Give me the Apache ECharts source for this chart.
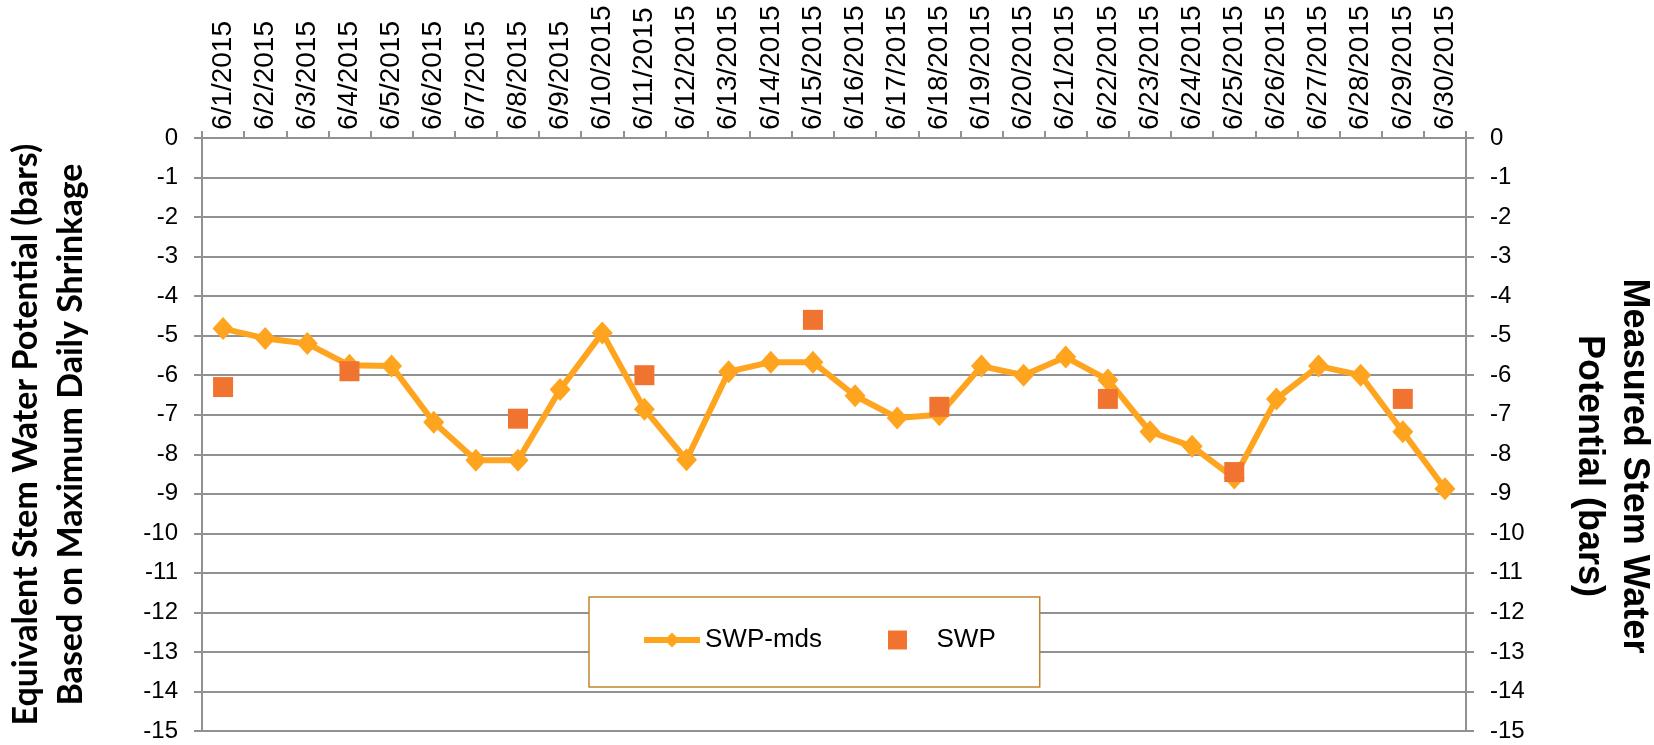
<!DOCTYPE html>
<html>
<head>
<meta charset="utf-8">
<title>SWP-mds vs SWP</title>
<script src="https://cdn.jsdelivr.net/npm/echarts@6/dist/echarts.min.js"></script>
<style>
  html, body { margin: 0; padding: 0; background: #fff; }
  #chart { width: 1654px; height: 745px; }
</style>
</head>
<body>
<div id="chart"></div>
<script>
// dates on the category axis
const dates = [
  '6/1/2015', '6/2/2015', '6/3/2015', '6/4/2015', '6/5/2015', '6/6/2015',
  '6/7/2015', '6/8/2015', '6/9/2015', '6/10/2015', '6/11/2015', '6/12/2015',
  '6/13/2015', '6/14/2015', '6/15/2015', '6/16/2015', '6/17/2015', '6/18/2015',
  '6/19/2015', '6/20/2015', '6/21/2015', '6/22/2015', '6/23/2015', '6/24/2015',
  '6/25/2015', '6/26/2015', '6/27/2015', '6/28/2015', '6/29/2015', '6/30/2015'
];

// equivalent SWP from max daily shrinkage (bars)
const swpMds = [
  -4.82, -5.07, -5.2, -5.75, -5.77, -7.19, -8.15, -8.15, -6.36, -4.93,
  -6.86, -8.14, -5.91, -5.67, -5.67, -6.52, -7.08, -7.0, -5.77, -6.0,
  -5.54, -6.12, -7.43, -7.8, -8.6, -6.6, -5.77, -6.0, -7.43, -8.87
];

// measured stem water potential (bars), only some days
const swpDates = ['6/1/2015', '6/4/2015', '6/8/2015', '6/11/2015', '6/15/2015',
  '6/18/2015', '6/22/2015', '6/25/2015', '6/29/2015'];
const swpValues = [-6.3, -5.9, -7.1, -6.0, -4.6, -6.8, -6.6, -8.45, -6.6];

const gridColor = '#919191';
const lineColor = '#ffa41f';
const squareColor = '#f07430';
const labelFont = 'Liberation Sans, Arial, sans-serif';

const chart = echarts.init(document.getElementById('chart'));

// shared settings for both value axes
const valueAxis = (pos) => ({
  type: 'value',
  position: pos,
  min: -15,
  max: 0,
  interval: 1,
  axisLine: { show: true, lineStyle: { color: gridColor, width: 2 } },
  axisTick: { show: true, inside: false, length: 8, lineStyle: { color: gridColor, width: 2 } },
  axisLabel: { color: '#000', fontSize: 24, fontFamily: labelFont, margin: 24 },
  nameLocation: 'middle'
});

const option = {
  backgroundColor: '#fff',
  animation: false,
  grid: {
    left: 202, right: 188, top: 138, bottom: 14,
    containLabel: false,
    outerBoundsMode: 'none'
  },
  legend: {
    left: 589,
    top: 597,
    orient: 'horizontal',
    padding: [30, 44, 34, 52],
    itemGap: 66,
    itemWidth: 56,
    itemHeight: 19,
    borderColor: '#c0862b',
    borderWidth: 1.5,
    backgroundColor: '#fff',
    textStyle: { color: '#000', fontSize: 26, fontFamily: labelFont },
    data: [
      { name: 'SWP-mds', lineStyle: { width: 6 } },
      // square marker, a path keeps its aspect inside the wide icon box
      { name: 'SWP', icon: 'path://M0,0 h10 v10 h-10 Z', itemStyle: { opacity: 1 }, textStyle: { padding: [0, 0, 0, 6] } }
    ]
  },
  xAxis: {
    type: 'category',
    position: 'top',
    data: dates,
    boundaryGap: true,
    axisLine: { show: true, lineStyle: { color: gridColor, width: 2 } },
    axisTick: { show: true, inside: false, length: 7, alignWithLabel: false, lineStyle: { color: gridColor, width: 2 } },
    axisLabel: { rotate: 90, interval: 0, color: '#000', fontSize: 28, fontFamily: labelFont, margin: 8 },
    splitLine: { show: false }
  },
  yAxis: [
    Object.assign(valueAxis('left'), {
      name: 'Equivalent Stem Water Potential (bars)\nBased on Maximum Daily Shrinkage',
      nameRotate: 90,
      nameGap: 108,
      nameTextStyle: { color: '#000', fontSize: 34, fontWeight: 'bold', fontFamily: 'Lato, sans-serif', lineHeight: 45, align: 'center' },
      splitLine: { show: true, lineStyle: { color: gridColor, width: 2 } }
    }),
    Object.assign(valueAxis('right'), {
      name: 'Measured Stem Water\nPotential (bars)',
      nameRotate: -90,
      nameGap: 100,
      nameTextStyle: { color: '#000', fontSize: 36, fontWeight: 'bold', fontFamily: labelFont, lineHeight: 45, align: 'center', padding: [0, 0, 0, 63] },
      splitLine: { show: false }
    })
  ],
  series: [
    {
      name: 'SWP-mds',
      type: 'line',
      data: swpMds,
      yAxisIndex: 0,
      symbol: 'diamond',
      symbolSize: [21, 23],
      showAllSymbol: true,
      itemStyle: { color: lineColor },
      lineStyle: { color: lineColor, width: 6 },
      z: 2
    },
    {
      name: 'SWP',
      type: 'scatter',
      yAxisIndex: 1,
      data: swpDates.map((d, i) => [d, swpValues[i]]),
      symbol: 'rect',
      symbolSize: 20,
      itemStyle: { color: squareColor, opacity: 1 },
      z: 3
    }
  ]
};

chart.setOption(option);
</script>
</body>
</html>
